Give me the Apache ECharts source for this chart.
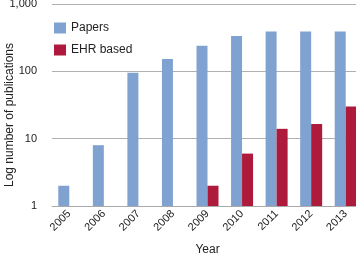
<!DOCTYPE html>
<html>
<head>
<meta charset="utf-8">
<script src="https://cdn.jsdelivr.net/npm/echarts@6/dist/echarts.min.js"></script>
<style>html,body{margin:0;padding:0;background:#fff}#c{width:356px;height:256px}</style>
</head>
<body>
<div id="c"></div>
<script>
var years = ['2005','2006','2007','2008','2009','2010','2011','2012','2013'];
var papers = [2, 8, 95, 152, 240, 335, 390, 390, 390];
var ehr = ['-', '-', '-', '-', 2, 6, 14, 16.5, 30];
var yTicks = [1, 10, 100, 1000];

var chart = echarts.init(document.getElementById('c'));
var font = 'Liberation Sans, Arial, sans-serif';
chart.setOption({
  animation: false,
  textStyle: {fontFamily: font},
  grid: {left: 52, top: 4, width: 311, bottom: 50, containLabel: false, outerBoundsMode: 'none'},
  legend: {
    orient: 'vertical', left: 49, top: 17, itemWidth: 12, itemHeight: 11, itemGap: 10,
    icon: 'rect',
    textStyle: {fontSize: 12, color: '#222', fontFamily: font, padding: [0, 0, 0, 0]},
    data: ['Papers', 'EHR based']
  },
  xAxis: {
    type: 'category', data: years,
    name: 'Year', nameLocation: 'middle', nameGap: 38, nameMoveOverlap: false,
    nameTextStyle: {fontSize: 12, color: '#222', fontFamily: font},
    axisLine: {lineStyle: {color: '#aaa'}},
    axisTick: {show: false},
    axisLabel: {rotate: 45, fontSize: 11, color: '#222', margin: 6, fontFamily: font}
  },
  yAxis: {
    type: 'log', min: 1, max: 1000, logBase: 10,
    name: 'Log number of publications', nameLocation: 'middle', nameGap: 36, nameMoveOverlap: false,
    nameTextStyle: {fontSize: 12, color: '#222', fontFamily: font, padding: [0, 20, 0, 0]},
    axisLine: {show: false}, axisTick: {show: false},
    splitLine: {lineStyle: {color: '#b0b0b0', width: 1}},
    axisLabel: {fontSize: 11, color: '#222', margin: 15, fontFamily: font,
      formatter: function (v) { return yTicks.indexOf(v) >= 0 ? v.toLocaleString('en-US') : ''; }}
  },
  series: [
    {name: 'Papers', type: 'bar', data: papers, barWidth: 11, barGap: '0%',
     itemStyle: {color: '#80a2d0'}},
    {name: 'EHR based', type: 'bar', data: ehr, barWidth: 11,
     itemStyle: {color: '#ad1a3c'}}
  ]
});
</script>
</body>
</html>
